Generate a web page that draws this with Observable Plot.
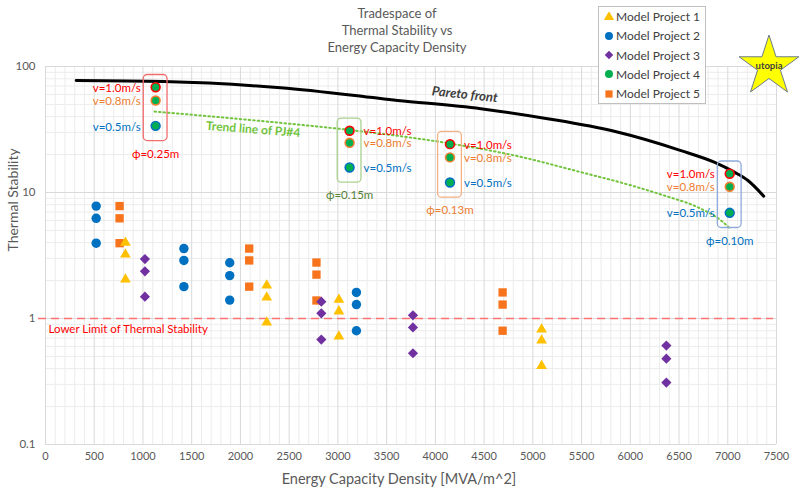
<!DOCTYPE html>
<html><head><meta charset="utf-8">
<script src="https://cdn.jsdelivr.net/npm/d3@7"></script>
<script src="https://cdn.jsdelivr.net/npm/@observablehq/plot@0.6"></script>
<style>
body{margin:0;background:#fff;font-family:Lato,"Open Sans",sans-serif;}
#wrap{position:relative;width:800px;height:493px;overflow:hidden;}
#legend{position:absolute;z-index:2;left:598px;top:6px;width:106px;height:96px;border:1px solid #bfbfbf;background:#fff;font-size:12px;color:#404040;}
.row{height:19.25px;display:flex;align-items:center;white-space:nowrap;}
.row svg{margin-left:5px;margin-right:2px;}
</style></head>
<body><div id="wrap"><div id="legend"></div></div>
<script>
// ---------- data ----------
const projects = ["Model Project 1","Model Project 2","Model Project 3","Model Project 4","Model Project 5"];
const speeds = ["v=1.0m/s","v=0.8m/s","v=0.5m/s"];
const diameters = ["ϕ=0.25m","ϕ=0.15m","ϕ=0.13m","ϕ=0.10m"];

const mp1X = [820, 2270, 3010, 5090];
const mp1Y = [[4.0, 3.22, 2.04], [1.83, 1.47, 0.93], [1.41, 1.14, 0.72], [0.82, 0.67, 0.42]];
const mp2X = [520, 1420, 1890, 3190];
const mp2Y = [[7.8, 6.24, 3.96], [3.59, 2.89, 1.79], [2.77, 2.19, 1.40], [1.61, 1.29, 0.80]];
const mp3X = [1020, 2830, 3770, 6370];
const mp3Y = [[2.96, 2.37, 1.49], [1.36, 1.10, 0.68], [1.06, 0.85, 0.53], [0.61, 0.48, 0.31]];
const mp4X = [1130, 3120, 4150, 7020];
const mp4Y = [[68.5, 53.7, 33.8], [30.9, 24.8, 15.8], [24.2, 19.0, 12.0], [14.1, 11.1, 6.9]];
const mp5X = [760, 2090, 2780, 4690];
const mp5Y = [[7.8, 6.24, 3.96], [3.59, 2.89, 1.79], [2.78, 2.23, 1.39], [1.61, 1.29, 0.80]];

const paretoX = [315, 1211, 2413, 3611, 4466, 5151, 5835, 6520, 6861, 7067, 7204, 7369];
const paretoY = [77.4, 76.0, 67.8, 53.8, 46.2, 38.5, 30.6, 21.5, 17.4, 14.5, 12.5, 9.35];
const trendX = [1119, 2413, 3098, 4148, 4808, 5493, 6006, 6348, 6691, 6930, 7026];
const trendY = [43.9, 35.7, 31.5, 24.5, 19.7, 14.5, 11.4, 9.46, 7.64, 6.0, 5.15];

const lowerLimit = 1;
const utopia = {x: 7423, y: 100, label: "utopia"};
const paretoLabel = {x: 4302, y: 59.9, label: "Pareto front"};
const trendLabel = {x: 2130, y: 31.6, label: "Trend line of PJ#4"};

const xTicks = d3.range(0, 7501, 500);
const xMinor = d3.range(0, 7501, 100).filter(v => v % 500 !== 0);
const yTicks = [0.1, 1, 10, 100];
const yMinor = d3.range(2, 10).flatMap(k => [k * 0.1, k, k * 10]);

// ---------- styles ----------
const C = {mp1:"#ffc000", mp2:"#0070c0", mp3:"#7030a0", mp4:"#00b050", mp5:"#f7731c"};
const speedColor = ["#ff0000", "#ed7d31", "#0070c0"];
const boxColor = ["#f26d6d", "#a9d18e", "#f4b183", "#8faadc"];
const phiColor = ["#ff0000", "#548235", "#ed7d31", "#0070c0"];

function flat(name, xs, ys) {
  const out = [];
  xs.forEach((x, i) => ys[i].forEach((y, j) => out.push({project: name, x, y, s: j, g: i})));
  return out;
}
const d1 = flat(projects[0], mp1X, mp1Y);
const d2 = flat(projects[1], mp2X, mp2Y);
const d3p = flat(projects[2], mp3X, mp3Y);
const d4 = flat(projects[3], mp4X, mp4Y);
const d5 = flat(projects[4], mp5X, mp5Y);

const pareto = paretoX.map((x, i) => ({x, y: paretoY[i]}));
const trend = trendX.map((x, i) => ({x, y: trendY[i]}));
const boxes = mp4X.map((x, i) => ({x, i, top: d3.max(mp4Y[i]) * 1.25, bottom: d3.min(mp4Y[i]) / 1.32}));
const leftSide = d4.filter(d => d.g === 0 || d.g === 3);
const rightSide = d4.filter(d => d.g === 1 || d.g === 2);

const chart = Plot.plot({
  width: 800, height: 493,
  marginLeft: 45, marginRight: 24, marginTop: 66, marginBottom: 49,
  style: {fontFamily: "Lato, 'Open Sans', sans-serif", fontSize: "11px", background: "white", overflow: "visible"},
  x: {domain: [0, 7500], axis: null},
  y: {type: "log", domain: [0.1, 100], axis: null},
  marks: [
    Plot.ruleX(xMinor, {x: d => d, stroke: "#ececec"}),
    Plot.ruleY(yMinor, {y: d => d, stroke: "#ececec"}),
    Plot.ruleX(xTicks, {x: d => d, stroke: "#d9d9d9"}),
    Plot.ruleY(yTicks, {y: d => d, stroke: "#d9d9d9"}),
    // axis labels
    Plot.text(xTicks, {x: d => d, text: d => String(d), frameAnchor: "bottom", dy: 15, fill: "#595959", fontSize: 11}),
    Plot.text(yTicks, {y: d => d, text: d => String(d), frameAnchor: "left", textAnchor: "end", dx: -10, fill: "#595959", fontSize: 11.5}),
    Plot.text(["Energy Capacity Density [MVA/m^2]"], {frameAnchor: "bottom", dy: 39, dx: -12, fill: "#595959", fontSize: 14.5}),
    Plot.text(["Thermal Stability"], {frameAnchor: "left", rotate: -90, dx: -32, dy: -4, fill: "#595959", fontSize: 14}),
    // title
    Plot.text(["Tradespace of"], {frameAnchor: "top", dx: -14, dy: -58, fill: "#595959", fontSize: 13}),
    Plot.text(["Thermal Stability vs"], {frameAnchor: "top", dx: -14, dy: -41, fill: "#595959", fontSize: 13}),
    Plot.text(["Energy Capacity Density"], {frameAnchor: "top", dx: -14, dy: -24, fill: "#595959", fontSize: 13}),
    // lower limit
    Plot.ruleY([lowerLimit], {y: d => d, stroke: "#ff7272", strokeWidth: 1.6, strokeDasharray: "8,5", insetLeft: -7, insetRight: 3}),
    Plot.text([lowerLimit], {x: 0, y: d => d, text: () => "Lower Limit of Thermal Stability", textAnchor: "start", dx: 3, dy: 11, fill: "#ff0000", fontSize: 11.5}),
    // pareto & trend
    Plot.line(pareto, {x: "x", y: "y", stroke: "#000", strokeWidth: 3, curve: "monotone-x"}),
    Plot.line(trend, {x: "x", y: "y", stroke: "#72c43e", strokeWidth: 2, strokeDasharray: "1.5,3", strokeLinecap: "round", curve: "monotone-x"}),
    Plot.text([paretoLabel], {x: "x", y: "y", text: "label", rotate: 6, fontWeight: "bold", fontStyle: "italic", fontSize: 13, fill: "#404040"}),
    Plot.text([trendLabel], {x: "x", y: "y", text: "label", rotate: 4.5, fontWeight: "bold", fontSize: 12, fill: "#72c43e"}),
    // boxes
    Plot.rect(boxes, {x1: d => d.x - 122, x2: d => d.x + 122, y1: "bottom", y2: "top", stroke: d => boxColor[d.i], fill: "none", strokeWidth: 1.3, rx: 4}),
    Plot.text(boxes, {x: "x", y: "bottom", text: d => diameters[d.i], dy: 13, fill: d => phiColor[d.i], fontSize: 11.5}),
    Plot.text(leftSide, {x: "x", y: "y", text: d => speeds[d.s], textAnchor: "end", dx: -15, dy: 1, fill: d => speedColor[d.s], fontSize: 11.5}),
    Plot.text(rightSide, {x: "x", y: "y", text: d => speeds[d.s], textAnchor: "start", dx: 14, dy: 1, fill: d => speedColor[d.s], fontSize: 11.5}),
    // points
    Plot.dot(d2, {x: "x", y: "y", symbol: "circle", r: 4.7, fill: C.mp2}),
    Plot.dot(d5, {x: "x", y: "y", symbol: "square", r: 4.7, fill: C.mp5}),
    Plot.dot(d1, {x: "x", y: "y", symbol: "triangle", r: 4, fill: C.mp1}),
    Plot.dot(d3p, {x: "x", y: "y", symbol: "diamond2", r: 4.6, fill: C.mp3}),
    Plot.dot(d4, {x: "x", y: "y", symbol: "circle", r: 4.4, fill: C.mp4, stroke: d => speedColor[d.s], strokeWidth: 1.6}),
    // utopia star
    Plot.dot([utopia], {x: "x", y: "y", symbol: "star", r: 18.8, fill: "#ffff00", stroke: "#6b7b8c", strokeWidth: 1}),
    Plot.text([utopia], {x: "x", y: "y", text: "label", fontWeight: "bold", fontSize: 9.5, fill: "#3f3f3f", dy: -1})
  ]
});
const wrap = document.getElementById("wrap");
wrap.insertBefore(chart, wrap.firstChild);

// legend
const legend = document.getElementById("legend");
const legendSymbols = [
  [d3.symbolTriangle, 44, C.mp1],
  [d3.symbolCircle, 50, C.mp2],
  [d3.symbolDiamond2, 46, C.mp3],
  [d3.symbolCircle, 50, C.mp4],
  [d3.symbolSquare, 52, C.mp5]
];
projects.forEach((p, i) => {
  const [type, size, color] = legendSymbols[i];
  const row = document.createElement("div");
  row.className = "row";
  row.innerHTML = `<svg width="10" height="10" viewBox="-5 -5 10 10"><path d="${d3.symbol(type, size)()}" fill="${color}"/></svg><span>${p}</span>`;
  legend.appendChild(row);
});
</script>
</body></html>
